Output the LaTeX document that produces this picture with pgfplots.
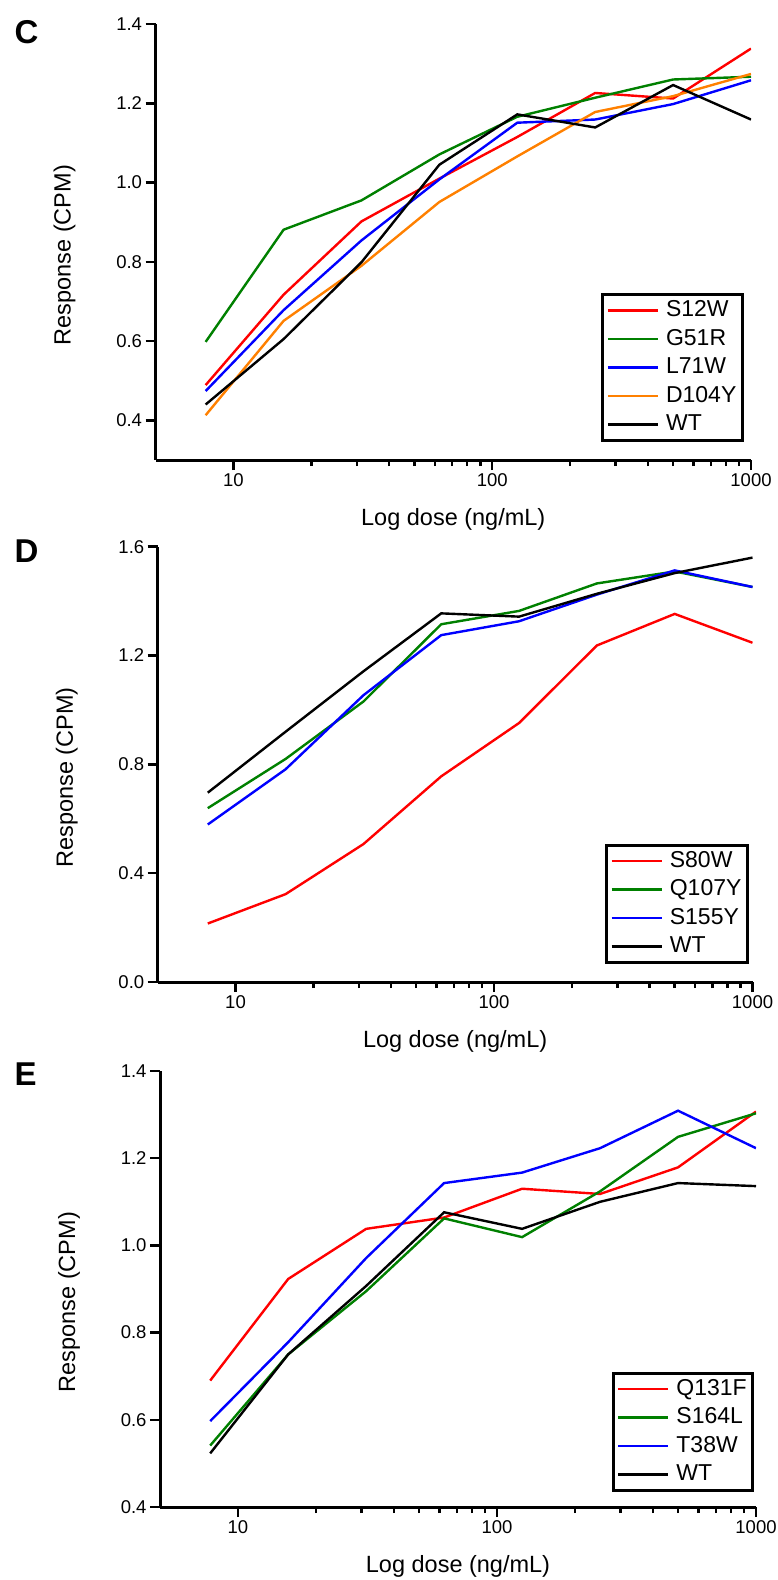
\documentclass[border=0pt]{standalone}
\usepackage{pgfplots}
\usepackage{pgfplotstable}
\pgfplotsset{compat=1.18}
\usepackage{fontspec}
\setmainfont{Liberation Sans}

\definecolor{cred}{RGB}{255,0,0}
\definecolor{cgreen}{RGB}{0,128,0}
\definecolor{cblue}{RGB}{0,0,255}
\definecolor{corange}{RGB}{255,128,0}

% Dose-response data: dose (ng/mL) and response (CPM)
\pgfplotstableread{
dose     S12W   G51R   L71W   D104Y  WT
7.8125   0.489  0.598  0.474  0.413  0.440
15.625   0.717  0.881  0.678  0.651  0.605
31.25    0.902  0.955  0.854  0.790  0.799
62.5     1.010  1.071  1.008  0.951  1.045
125      1.115  1.166  1.151  1.066  1.172
250      1.226  1.214  1.159  1.178  1.139
500      1.212  1.260  1.198  1.218  1.246
1000     1.338  1.267  1.258  1.274  1.159
}\panelC

\pgfplotstableread{
dose     S80W   Q107Y  S155Y  WT
7.8125   0.215  0.639  0.579  0.696
15.625   0.323  0.820  0.782  0.920
31.25    0.507  1.031  1.054  1.142
62.5     0.756  1.315  1.275  1.355
125      0.952  1.364  1.326  1.343
250      1.237  1.465  1.424  1.427
500      1.353  1.509  1.513  1.503
1000     1.247  1.452  1.452  1.560
}\panelD

\pgfplotstableread{
dose     Q131F  S164L  T38W   WT
7.8125   0.690  0.541  0.597  0.523
15.625   0.923  0.750  0.778  0.750
31.25    1.038  0.895  0.971  0.907
62.5     1.064  1.062  1.143  1.076
125      1.130  1.019  1.167  1.038
250      1.118  1.124  1.223  1.100
500      1.179  1.249  1.309  1.143
1000     1.307  1.303  1.223  1.136
}\panelE

% Short horizontal line as the legend sample
\pgfplotsset{legend image code/.code={\draw[#1, line width=2.4pt] (0pt,0pt) -- (50pt,0pt);}}

\pgfplotsset{
  curve/.style={line width=2.4pt, mark=none},
  doseaxis/.style={
    xmin=5, xmax=1000,
    scale only axis,
    axis x line=bottom, axis y line=left,
    axis line style={line width=3pt, -},
    tick align=outside,
    major tick length=10pt, minor tick length=6pt,
    every tick/.style={black, line width=2.5pt},
    xtick={10,100,1000}, xticklabels={10,100,1000},
    /pgf/number format/assume math mode=true,
    ticklabel style={font=\fontsize{18.5}{21}\selectfont},
    yticklabel style={/pgf/number format/fixed, /pgf/number format/fixed zerofill, /pgf/number format/precision=1},
    label style={font=\fontsize{23.5}{26}\selectfont},
    xlabel={Log dose (ng/mL)},
    ylabel={Response (CPM)},
    xlabel style={at={(axis description cs:0.5,0)}, anchor=base, yshift=-65pt},
    ylabel style={at={(axis description cs:-0.1285,0.47)}, anchor=south},
    legend cell align=left,
    legend style={anchor=south east, draw=black, line width=3pt,
      inner xsep=4pt, inner ysep=3pt, row sep=2.5pt, column sep=5pt,
      font=\fontsize{23}{26}\selectfont,
      nodes={inner sep=2pt, text height=17pt, text depth=5pt}},
  }
}

\begin{document}
\begin{tikzpicture}
\path[use as bounding box] (0pt,0pt) rectangle (777pt,-1580pt);

% Panel C
\begin{semilogxaxis}[doseaxis, at={(155.5pt,-460pt)}, anchor=south west,
  width=595.5pt, height=436pt, ymin=0.3, ymax=1.4,
  ytick={0.4,0.6,0.8,1.0,1.2,1.4},
  legend style={at={(0.988,0.041)}}]
\addplot[curve, cred] table[x=dose, y=S12W] {\panelC};
\addplot[curve, cgreen] table[x=dose, y=G51R] {\panelC};
\addplot[curve, cblue] table[x=dose, y=L71W] {\panelC};
\addplot[curve, corange] table[x=dose, y=D104Y] {\panelC};
\addplot[curve, black] table[x=dose, y=WT] {\panelC};
\legend{S12W, G51R, L71W, D104Y, WT}
\end{semilogxaxis}

% Panel D
\begin{semilogxaxis}[doseaxis, at={(157.7pt,-982pt)}, anchor=south west,
  width=594.8pt, height=435.3pt, ymin=0, ymax=1.6,
  ytick={0,0.4,0.8,1.2,1.6},
  legend style={at={(0.994,0.041)}}]
\addplot[curve, cred] table[x=dose, y=S80W] {\panelD};
\addplot[curve, cgreen] table[x=dose, y=Q107Y] {\panelD};
\addplot[curve, cblue] table[x=dose, y=S155Y] {\panelD};
\addplot[curve, black] table[x=dose, y=WT] {\panelD};
\legend{S80W, Q107Y, S155Y, WT}
\end{semilogxaxis}

% Panel E
\begin{semilogxaxis}[doseaxis, at={(160pt,-1507pt)}, anchor=south west,
  width=596pt, height=436pt, ymin=0.4, ymax=1.4,
  ytick={0.4,0.6,0.8,1.0,1.2,1.4},
  legend style={at={(0.997,0.034)}}]
\addplot[curve, cred] table[x=dose, y=Q131F] {\panelE};
\addplot[curve, cgreen] table[x=dose, y=S164L] {\panelE};
\addplot[curve, cblue] table[x=dose, y=T38W] {\panelE};
\addplot[curve, black] table[x=dose, y=WT] {\panelE};
\legend{Q131F, S164L, T38W, WT}
\end{semilogxaxis}

% Panel letters
\node[anchor=base west, font=\fontsize{33}{36}\selectfont\bfseries] at (11pt,-43pt) {C};
\node[anchor=base west, font=\fontsize{33}{36}\selectfont\bfseries] at (11pt,-562pt) {D};
\node[anchor=base west, font=\fontsize{33}{36}\selectfont\bfseries] at (11pt,-1085pt) {E};
\end{tikzpicture}
\end{document}
